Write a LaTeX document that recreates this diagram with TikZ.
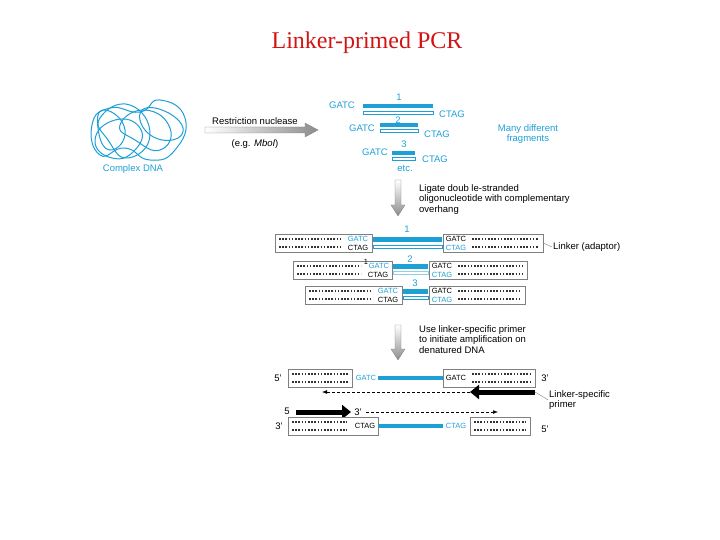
\documentclass[tikz,border=0pt]{standalone}
\usepackage{fontspec}
\setmainfont{Liberation Serif}
\setsansfont{Liberation Sans}
\usetikzlibrary{arrows.meta}
\definecolor{dnablue}{RGB}{30,160,215}
\definecolor{titlered}{RGB}{210,20,20}
% adaptor box: name, left x, right x, middle y, left gap, right gap
\newcommand{\adaptor}[6]{%
  \node[linkbox, minimum width={#3-#2}] (#1) at ({(#2+#3)/2},#4) {};
  \draw[dotrow] ({#2+4+#5},{#4-4}) -- ({#3-4-#6},{#4-4});
  \draw[dotrow] ({#2+4+#5},{#4+4}) -- ({#3-4-#6},{#4+4});}
\begin{document}
\begin{tikzpicture}[x=1pt,y=-1pt,font=\sffamily\fontsize{9.5}{10.5}\selectfont]
	\tikzstyle{linkbox} = [draw=gray, line width=0.6, fill=white, minimum height=18, inner sep=0]
	\tikzstyle{dotrow} = [line width=2, dash pattern=on 1.6 off 1.6, black!80]
	\tikzstyle{strand} = [fill=dnablue]
	\tikzstyle{comp} = [draw=dnablue, line width=0.6, fill=white]
	\tikzstyle{bt} = [text=dnablue, inner sep=1]
	\tikzstyle{kt} = [inner sep=1]
	\tikzstyle{sm} = [font=\sffamily\fontsize{7.5}{8}\selectfont]
	\tikzstyle{fat} = [line width=5, -{Triangle[length=9,width=14]}]
	\tikzstyle{dasharrow} = [densely dashed, line width=0.5, -{Latex[length=5]}]
	\useasboundingbox (0,0) rectangle (720,540);
	\node[font=\rmfamily\fontsize{24}{26}\selectfont, text=titlered] (title) at (367,43) {Linker-primed PCR};
	% tangled DNA
	\begin{scope}[dnablue, line width=1]
		\draw plot[smooth cycle, tension=0.9] coordinates {(92,125) (110,108) (140,112) (160,100) (185,118) (175,150) (150,160) (125,148) (100,155)};
		\draw plot[smooth cycle, tension=0.9] coordinates {(100,118) (130,105) (150,135) (128,158) (108,140)};
		\draw plot[smooth cycle, tension=0.9] coordinates {(120,125) (145,110) (170,128) (160,150) (135,140)};
		\draw plot[smooth cycle, tension=0.9] coordinates {(95,140) (115,120) (140,128) (135,150) (112,158)};
		\draw plot[smooth cycle, tension=1] coordinates {(140,120) (155,108) (183,128) (162,140)};
		\draw plot[smooth cycle, tension=1] coordinates {(105,110) (125,130) (110,150) (98,128)};
	\end{scope}
	\node[bt] (cdna) at (133,169) {Complex DNA};
	% restriction arrow
	\shade[left color=white, right color=gray!90, draw=gray, line width=0.3]
		(205,127) -- (305,127) -- (305,123) -- (318,130) -- (305,137) -- (305,133) -- (205,133) -- cycle;
	\node[kt] (rn) at (255,121) {Restriction nuclease};
	\node[kt] (mbo) at (255,144) {(e.g. \textit{MboI})};
	% fragments
	\fill[strand] (363,104) rectangle (433,108);
	\draw[comp] (363,111) rectangle (433,114);
	\node[bt] (g1) at (342,105) {GATC};
	\node[bt] (c1) at (452,114) {CTAG};
	\node[bt] (n1) at (399,97) {1};
	\fill[strand] (380,123) rectangle (418,127);
	\draw[comp] (380,129) rectangle (418,132);
	\node[bt] (g2) at (362,128) {GATC};
	\node[bt] (c2) at (437,134) {CTAG};
	\node[bt] (n2) at (398,120) {2};
	\fill[strand] (392,151) rectangle (415,155);
	\draw[comp] (392,157) rectangle (415,160);
	\node[bt] (g3) at (375,152) {GATC};
	\node[bt] (c3) at (435,159) {CTAG};
	\node[bt] (n3) at (404,144) {3};
	\node[bt] (etc) at (405,168) {etc.};
	\node[bt, align=center] (many) at (528,134) {Many different\\fragments};
	% ligate step
	\shade[top color=white, bottom color=gray!90, draw=gray, line width=0.3]
		(395,180) -- (401,180) -- (401,205) -- (405,205) -- (398,216) -- (391,205) -- (395,205) -- cycle;
	\node[kt, align=left, anchor=north west] (lig) at (418,183) {Ligate doub le-stranded\\oligonucleotide with complementary\\overhang};
	% linkers
	\adaptor{l1}{275}{372}{243}{0}{27}
	\adaptor{r1}{443}{543}{243}{25}{0}
	\fill[strand] (373,237) rectangle (442,242);
	\draw[comp] (373,245) rectangle (442,248);
	\node[bt, sm] (lg1) at (358,239) {GATC};
	\node[kt, sm] (lc1) at (358,248) {CTAG};
	\node[kt, sm] (rg1) at (456,239) {GATC};
	\node[bt, sm] (rc1) at (456,248) {CTAG};
	\node[bt] (m1) at (407,229) {1};
	\node[kt, anchor=west] (lnk) at (552,247) {Linker (adaptor)};
	\draw[gray, line width=0.4] (r1.east) -- (lnk.west);
	\adaptor{l2}{293}{392}{270}{0}{27}
	\adaptor{r2}{429}{527}{270}{25}{0}
	\fill[strand] (393,264) rectangle (428,269);
	\draw[comp, draw=dnablue!50] (393,271) rectangle (428,274);
	\node[bt, sm] (lg2) at (379,266) {GATC};
	\node[kt, sm] (lc2) at (378,275) {CTAG};
	\node[kt, sm] (rg2) at (442,266) {GATC};
	\node[bt, sm] (rc2) at (442,275) {CTAG};
	\node[bt] (m2) at (410,259) {2};
	\node[kt, sm] (t2) at (366,262) {1};
	\adaptor{l3}{305}{402}{295}{0}{27}
	\adaptor{r3}{429}{525}{295}{25}{0}
	\fill[strand] (403,289) rectangle (428,294);
	\draw[comp] (403,296) rectangle (428,299);
	\node[bt, sm] (lg3) at (388,291) {GATC};
	\node[kt, sm] (lc3) at (388,300) {CTAG};
	\node[kt, sm] (rg3) at (442,291) {GATC};
	\node[bt, sm] (rc3) at (442,300) {CTAG};
	\node[bt] (m3) at (415,283) {3};
	% primer step
	\shade[top color=white, bottom color=gray!90, draw=gray, line width=0.3]
		(395,325) -- (401,325) -- (401,349) -- (405,349) -- (398,360) -- (391,349) -- (395,349) -- cycle;
	\node[kt, align=left, anchor=north west] (use) at (418,324) {Use linker-specific primer\\to initiate amplification on\\denatured DNA};
	% top strand
	\adaptor{ta}{288}{352}{378}{0}{0}
	\adaptor{tb}{443}{535}{378}{25}{0}
	\fill[strand] (378,376) rectangle (443,380);
	\node[kt] (t5) at (278,378) {5'};
	\node[bt, sm] (tg) at (366,378) {GATC};
	\node[kt, sm] (tg2) at (456,378) {GATC};
	\node[kt] (t3) at (545,378) {3'};
	% primers
	\coordinate (pa) at (535,392);
	\coordinate (pb) at (470,392);
	\coordinate (pc) at (322,392);
	\draw[fat] (pa) -- (pb);
	\draw[dasharrow] (pb) -- (pc);
	\node[kt, align=left, anchor=north west] (lsp) at (548,389) {Linker-specific\\primer};
	\draw[gray, line width=0.4] (pa) -- (lsp.west);
	\node[kt] (p5) at (287,411) {5};
	\coordinate (qa) at (296,412);
	\coordinate (qb) at (351,412);
	\draw[fat] (qa) -- (qb);
	\node[kt] (p3) at (358,412) {3'};
	\coordinate (qc) at (366,412);
	\coordinate (qd) at (498,412);
	\draw[dasharrow] (qc) -- (qd);
	% bottom strand
	\adaptor{ba}{288}{378}{426}{0}{27}
	\adaptor{bb}{470}{530}{426}{0}{0}
	\fill[strand] (378,424) rectangle (443,428);
	\node[kt] (b3) at (279,426) {3'};
	\node[kt, sm] (bc) at (365,426) {CTAG};
	\node[bt, sm] (bc2) at (456,426) {CTAG};
	\node[kt] (b5) at (545,429) {5'};
\end{tikzpicture}
\end{document}
